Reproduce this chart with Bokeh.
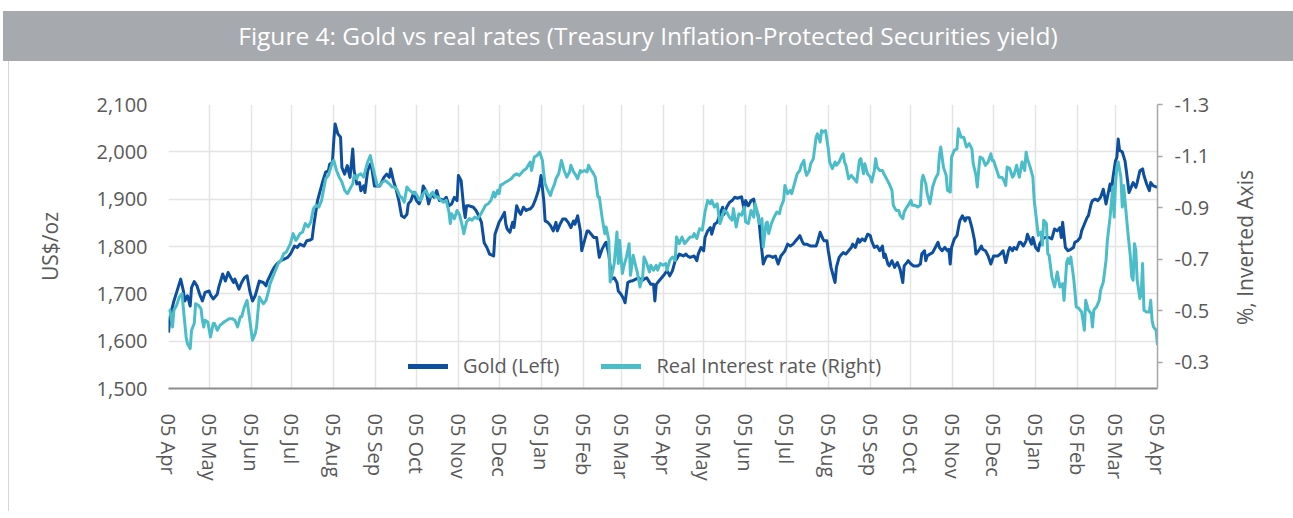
import datetime as dt
from bokeh.plotting import figure
from bokeh.models import (Range1d, LinearAxis, FixedTicker, NumeralTickFormatter,
                          Div, Legend, LegendItem, Spacer)
from bokeh.layouts import column, row
from bokeh.embed import file_html
from bokeh.resources import INLINE

# ---------------- data (days since 05 Apr 2020) ----------------
base_date = dt.date(2020, 4, 5)

tick_labels = ["05 Apr", "05 May", "05 Jun", "05 Jul", "05 Aug", "05 Sep", "05 Oct",
               "05 Nov", "05 Dec", "05 Jan", "05 Feb", "05 Mar", "05 Apr", "05 May",
               "05 Jun", "05 Jul", "05 Aug", "05 Sep", "05 Oct", "05 Nov", "05 Dec",
               "05 Jan", "05 Feb", "05 Mar", "05 Apr"]

gold_day = [0, 1, 4, 6, 9, 11, 12, 14, 16, 17, 19, 21, 23, 25, 27, 30, 31, 33, 36, 37,
            40, 42, 44, 46, 48, 49, 52, 54, 56, 58, 60, 62, 64, 65, 67, 70, 72, 73, 76, 78,
            80, 83, 85, 88, 90, 93, 95, 97, 100, 102, 104, 106, 107, 110, 112, 114, 116, 118, 119, 121,
            122, 123, 125, 127, 128, 130, 132, 134, 136, 137, 139, 141, 142, 144, 145, 147, 149, 150, 152, 154,
            156, 159, 161, 163, 164, 166, 168, 170, 172, 174, 176, 177, 179, 181, 183, 185, 187, 188, 190, 192,
            194, 196, 198, 200, 201, 203, 205, 207, 209, 211, 213, 214, 216, 218, 219, 220, 222, 225, 227, 229,
            231, 233, 235, 237, 240, 241, 244,
            246, 248, 249, 250, 252, 254, 255, 257, 259, 260, 262, 264, 266, 267, 269, 271, 273, 274, 275, 277,
            278, 280, 282, 284, 286, 287, 289, 291, 293, 295, 297, 299, 300, 302, 304, 305, 307, 309, 310, 312,
            314, 316, 318, 320, 322, 323, 325, 327, 329, 331, 332, 334, 336, 337, 339, 341, 342, 345, 347, 349,
            351, 353, 356, 358, 359, 360, 362, 364, 366, 368, 370, 372, 374, 375, 377, 380, 382, 383, 385, 388,
            390, 391, 393, 395, 396, 398, 400, 401, 403, 405, 407, 409, 410, 412, 414, 416, 418, 420, 422, 423,
            425, 426, 428, 430, 432, 433, 435, 436, 437, 439, 441, 442, 444, 446, 448, 450, 452, 454, 455, 457,
            459, 461, 463, 465, 466, 468, 469, 471, 474, 476, 478, 479, 481, 483, 484,
            486, 487, 489, 491, 492, 493, 495, 497, 498, 500, 502, 504, 505, 507, 509, 510, 512, 514, 516, 518,
            519, 521, 523, 525, 527, 528, 529, 531, 532, 534, 536, 538, 540, 542, 543, 545, 546, 548, 550, 553,
            555, 556, 558, 559, 560, 562, 564, 566, 568, 569, 571, 573, 575, 576, 577, 578, 580, 582, 584, 586,
            588, 589, 591, 593, 595, 596, 598, 600, 601, 603, 605, 607, 609, 610, 612, 614, 616, 618, 620, 621,
            623, 624, 626, 628, 629, 631, 633, 634, 636, 637, 638, 640, 642, 643, 645, 647, 649, 650, 652, 654,
            656, 658, 659, 660, 662, 664, 666, 668, 669, 671, 673, 674, 676, 678, 679, 681, 682, 684, 686, 688,
            690, 692, 693, 695, 696, 697, 699, 700, 701, 702, 704, 706, 707, 709, 711, 712, 714, 715, 717, 719,
            720, 722, 724, 725, 727, 730]

gold_val = [1618, 1650, 1685, 1703, 1731, 1706, 1685, 1696, 1674, 1713, 1726, 1717, 1699, 1685, 1703, 1706, 1698, 1689, 1699, 1713,
            1742, 1727, 1745, 1734, 1724, 1731, 1710, 1724, 1734, 1738, 1706, 1685, 1696, 1706, 1727, 1724, 1717, 1727, 1745, 1756,
            1763, 1770, 1773, 1777, 1784, 1801, 1798, 1805, 1801, 1812, 1813, 1816, 1840, 1897, 1918, 1939, 1957, 1960, 1974, 1978,
            2024, 2059, 2038, 2031, 1967, 1953, 1971, 1946, 2006, 1960, 1932, 1935, 1918, 1928, 1914, 1960, 1974, 1967, 1928, 1928,
            1928, 1946, 1953, 1946, 1964, 1939, 1921, 1897, 1865, 1861, 1868, 1890, 1897, 1914, 1897, 1890, 1904, 1928, 1918, 1890,
            1911, 1904, 1918, 1897, 1900, 1897, 1904, 1886, 1890, 1904, 1897, 1950, 1939, 1879, 1861, 1886, 1886, 1883, 1876, 1865,
            1851, 1808, 1798, 1784, 1780, 1826, 1851,
            1861, 1872, 1847, 1837, 1830, 1851, 1840, 1886, 1872, 1868, 1883, 1876, 1879, 1879, 1886, 1900, 1918, 1932, 1950, 1897,
            1854, 1851, 1844, 1833, 1851, 1833, 1847, 1858, 1858, 1851, 1840, 1854, 1847, 1865, 1833, 1791, 1812, 1833, 1833, 1826,
            1819, 1819, 1777, 1794, 1805, 1809, 1784, 1731, 1734, 1724, 1706, 1699, 1689, 1681, 1724, 1727, 1727, 1731, 1734, 1727,
            1731, 1734, 1720, 1720, 1685, 1720, 1727, 1734, 1741, 1749, 1738, 1749, 1770, 1773, 1784, 1780, 1784, 1780, 1777, 1780,
            1770, 1784, 1798, 1791, 1819, 1833, 1840, 1826, 1847, 1851, 1868, 1883, 1868, 1883, 1893, 1897, 1904, 1902, 1904, 1905,
            1876, 1897, 1886, 1897, 1900, 1883, 1868, 1851, 1819, 1763, 1777, 1780, 1780, 1777, 1780, 1763, 1780, 1787, 1791, 1805,
            1801, 1805, 1812, 1819, 1823, 1809, 1805, 1805, 1801, 1801, 1801, 1809, 1830, 1816, 1812,
            1812, 1791, 1756, 1734, 1724, 1756, 1777, 1784, 1787, 1784, 1791, 1798, 1805, 1798, 1816, 1809, 1816, 1812, 1826, 1823,
            1812, 1798, 1801, 1791, 1801, 1777, 1784, 1763, 1759, 1770, 1756, 1766, 1752, 1724, 1759, 1766, 1770, 1763, 1759, 1759,
            1763, 1784, 1791, 1770, 1780, 1784, 1787, 1798, 1809, 1798, 1791, 1798, 1791, 1794, 1763, 1798, 1816, 1823, 1854, 1865,
            1854, 1861, 1861, 1840, 1812, 1784, 1791, 1801, 1794, 1791, 1780, 1763, 1780, 1780, 1780, 1784, 1791, 1766, 1791, 1798,
            1791, 1798, 1794, 1809, 1809, 1801, 1812, 1826, 1812, 1805, 1819, 1798, 1791, 1805, 1816, 1819, 1819, 1819, 1816, 1837,
            1833, 1840, 1819, 1851, 1798, 1791, 1794, 1798, 1809, 1812, 1819, 1833, 1847, 1861, 1865, 1890, 1897, 1900, 1897, 1904,
            1921, 1890, 1904, 1932, 1918, 1943, 1981, 1988, 2027, 2003, 2000, 1981, 1960, 1914, 1928, 1935, 1925, 1935, 1960, 1964,
            1950, 1932, 1918, 1935, 1928, 1925]

real_day = [0, 1, 3, 4, 6, 8, 10, 11, 13, 14, 16, 17, 19, 20, 22, 24, 25, 26, 27, 29,
            31, 33, 34, 36, 38, 41, 43, 45, 47, 49, 51, 53, 54, 56, 58, 60, 62, 64, 65, 67,
            70, 72, 74, 75, 78, 80, 81, 83, 85, 87, 90, 92, 94, 95, 97, 99, 101, 103, 105, 107,
            109, 111, 113, 116, 118, 121, 122, 124, 126, 128, 130, 132, 134, 136, 137, 139, 140, 142, 144, 147,
            149, 150, 152, 154, 156, 158, 160, 163, 165, 167, 169, 171, 172, 174, 176, 178, 181, 182, 184, 186,
            188, 190, 191, 193, 195, 197, 199, 201, 203, 205, 207, 208, 209, 211, 213, 215, 217, 218, 220, 222,
            224, 226, 228, 230, 232, 234, 236, 238, 240, 241, 243, 244,
            245, 247, 249, 251, 253, 255, 257, 259, 260, 262, 264, 267, 268, 270, 272, 274, 276, 277, 278, 280,
            282, 283, 285, 286, 288, 290, 292, 294, 296, 297, 299, 300, 302, 304, 305, 307, 309, 310, 312, 313,
            315, 317, 318, 320, 322, 323, 325, 326, 328, 329, 331, 332, 333, 335, 336, 338, 340, 341, 343, 345,
            346, 348, 350, 351, 353, 355, 356, 358, 360, 361, 363, 365, 367, 368, 370, 372, 374, 375, 377, 379,
            381, 383, 385, 387, 388, 390, 392, 394, 396, 398, 400, 401, 403, 405, 407, 408, 410, 412, 414, 416,
            417, 419, 421, 423, 425, 426, 428, 430, 432, 433, 435, 436, 438, 439, 441, 442, 443, 445, 447, 449,
            451, 452, 454, 455, 457, 459, 460, 462, 464, 466, 467, 469, 470, 471, 473, 474, 476, 478, 479, 481,
            482, 483, 485, 487, 488, 490, 492, 493, 495, 497, 498, 499, 500, 502, 504, 506, 508, 510, 511, 513,
            514, 516, 518, 519, 521, 522, 523, 525, 527, 528, 530, 532, 534, 535, 537, 539, 540, 542, 543, 545,
            546, 548, 549, 551, 553, 555, 556, 557, 559, 560, 562, 564, 566, 568, 569, 570, 572, 574, 575, 577,
            578, 580, 582, 583, 585, 587, 588, 589, 591, 593, 594, 596, 597, 598, 599, 601, 603, 605, 607, 608,
            609, 611, 613, 615, 616, 618, 619, 621, 623, 624, 626, 628, 630, 632, 633, 634, 636, 638, 639, 641,
            642, 644, 645, 646, 648, 649, 650, 652, 654, 655, 656, 658, 660, 661, 663, 664, 665, 666, 668, 669,
            670, 672, 674, 675, 676, 677, 679, 681, 682, 683, 685, 687, 688, 690, 692, 693, 695, 697, 698, 699,
            700, 701, 703, 704, 705, 706, 708, 710, 711, 712, 713, 714, 715, 717, 718, 719, 720, 722, 724, 725,
            726, 727, 729, 730]

real_val = [-0.495, -0.502, -0.437, -0.502, -0.521, -0.553, -0.566, -0.508, -0.398, -0.372, -0.353, -0.424, -0.450, -0.527, -0.521, -0.508, -0.463, -0.437, -0.463, -0.456,
            -0.398, -0.450, -0.450, -0.424, -0.443, -0.456, -0.463, -0.469, -0.469, -0.463, -0.437, -0.476, -0.476, -0.515, -0.540, -0.463, -0.385, -0.411, -0.437, -0.553,
            -0.527, -0.540, -0.579, -0.605, -0.644, -0.670, -0.683, -0.695, -0.721, -0.728, -0.760, -0.799, -0.773, -0.780, -0.799, -0.805, -0.838, -0.825, -0.844, -0.896,
            -0.909, -0.902, -0.928, -1.012, -1.025, -1.077, -1.083, -1.044, -1.018, -0.999, -0.967, -0.954, -0.973, -0.992, -1.025, -1.012, -1.025, -1.031, -1.018, -1.077,
            -1.102, -1.077, -1.031, -0.986, -0.986, -0.999, -1.005, -0.992, -0.980, -0.980, -0.967, -0.941, -0.941, -0.921, -0.980, -0.967, -0.954, -0.960, -0.941, -0.928,
            -0.954, -0.967, -0.954, -0.941, -0.960, -0.941, -0.941, -0.928, -0.921, -0.928, -0.883, -0.838, -0.876, -0.857, -0.889, -0.870, -0.825, -0.799, -0.844, -0.857,
            -0.851, -0.863, -0.857, -0.870, -0.889, -0.909, -0.915, -0.928, -0.960, -0.941, -0.967, -0.954,
            -0.986, -0.992, -0.999, -1.005, -1.012, -1.025, -1.031, -1.025, -1.031, -1.044, -1.051, -1.077, -1.044, -1.096, -1.102, -1.115, -1.083, -1.031, -0.992, -0.967,
            -0.947, -0.967, -0.992, -1.012, -1.031, -1.083, -1.044, -1.018, -1.038, -1.064, -1.038, -1.031, -1.012, -1.044, -1.038, -1.044, -1.038, -1.064, -1.044, -1.038,
            -1.018, -0.941, -0.941, -0.863, -0.799, -0.825, -0.773, -0.611, -0.657, -0.683, -0.805, -0.683, -0.773, -0.644, -0.670, -0.708, -0.760, -0.637, -0.715, -0.670,
            -0.650, -0.592, -0.631, -0.708, -0.683, -0.650, -0.676, -0.657, -0.676, -0.657, -0.683, -0.676, -0.683, -0.657, -0.695, -0.708, -0.695, -0.786, -0.760, -0.786,
            -0.760, -0.773, -0.786, -0.786, -0.799, -0.780, -0.818, -0.812, -0.883, -0.928, -0.915, -0.928, -0.902, -0.915, -0.838, -0.851, -0.889, -0.883, -0.863, -0.851,
            -0.896, -0.825, -0.876, -0.870, -0.902, -0.844, -0.838, -0.889, -0.863, -0.915, -0.876, -0.838, -0.857, -0.747, -0.838, -0.844, -0.799, -0.838, -0.863, -0.883,
            -0.876, -0.902, -0.928, -0.986, -0.954, -0.967, -0.954, -0.992, -1.031, -1.044, -1.064, -1.083, -1.044, -1.025, -1.044, -1.070, -1.090, -1.173, -1.186, -1.154,
            -1.199, -1.193, -1.199, -1.128, -1.077, -1.051, -1.077, -1.064, -1.077, -1.102, -1.109, -1.077, -1.064, -1.012, -1.025, -1.012, -0.999, -1.083, -1.090, -1.031,
            -1.070, -1.031, -1.018, -0.999, -1.044, -1.090, -1.057, -1.044, -1.044, -1.031, -1.012, -0.992, -0.967, -0.909, -0.889, -0.889, -0.870, -0.857, -0.883, -0.902,
            -0.909, -0.928, -0.909, -0.909, -0.902, -0.909, -1.005, -1.025, -0.992, -0.954, -0.915, -0.980, -1.012, -1.031, -1.102, -1.135, -1.057, -1.025, -0.967, -0.960,
            -1.096, -1.122, -1.128, -1.206, -1.173, -1.173, -1.154, -1.135, -1.148, -1.128, -1.070, -1.025, -0.980, -1.044, -1.096, -1.090, -1.064, -1.077, -1.109, -1.083,
            -1.083, -1.051, -1.018, -1.018, -1.012, -0.986, -1.057, -1.051, -1.018, -1.025, -1.064, -1.018, -1.077, -1.044, -1.115, -1.090, -1.057, -1.018, -0.928, -0.838,
            -0.792, -0.805, -0.754, -0.851, -0.838, -0.721, -0.715, -0.631, -0.592, -0.618, -0.650, -0.592, -0.605, -0.540, -0.689, -0.702, -0.683, -0.708, -0.631, -0.579,
            -0.515, -0.508, -0.495, -0.463, -0.424, -0.540, -0.502, -0.489, -0.437, -0.502, -0.515, -0.540, -0.579, -0.611, -0.695, -0.773, -0.863, -0.980, -0.863, -0.992,
            -1.057, -1.077, -1.018, -0.902, -0.986, -0.928, -0.812, -0.708, -0.631, -0.618, -0.760, -0.734, -0.618, -0.547, -0.566, -0.683, -0.502, -0.495, -0.495, -0.540,
            -0.463, -0.437, -0.424, -0.366]

gold_ticks = [1500, 1600, 1700, 1800, 1900, 2000, 2100]
real_ticks = [-1.3, -1.1, -0.9, -0.7, -0.5, -0.3]

# tick positions: the 5th of each month, as day offsets
tick_pos = []
for i in range(len(tick_labels)):
    y = 2020 + (3 + i) // 12
    m = (3 + i) % 12 + 1
    tick_pos.append((dt.date(y, m, 5) - base_date).days)

# ---------------- styling ----------------
FONT = "Open Sans"
TXT = "#595959"
GOLD_C = "#0d4f9e"
REAL_C = "#4bbdc9"
GRID_C = "#e4e4e4"

title_div = Div(
    text="Figure 4: Gold vs real rates (Treasury Inflation-Protected Securities yield)",
    width=1290, height=50, margin=(11, 0, 0, 3),
    styles={"background-color": "#a6a9ad", "color": "white", "font-family": FONT,
            "font-size": "24.5px", "text-align": "center", "line-height": "50px",
            "white-space": "nowrap"})

left_gap = Spacer(width=8, height=450, margin=0)
left_line = Div(text="", width=1, height=450, margin=0,
                styles={"background-color": "#d6d6d6"})

p = figure(width=1208, height=450, output_backend="svg", toolbar_location=None,
           x_range=Range1d(0, tick_pos[-1]), y_range=Range1d(gold_ticks[0], gold_ticks[-1]),
           min_border_left=159, min_border_right=60, min_border_top=43, min_border_bottom=123,
           background_fill_color="white", border_fill_color="white", margin=0)
p.outline_line_color = None
p.extra_y_ranges = {"real": Range1d(start=-0.198, end=-1.3)}

# x axis
xa = p.xaxis[0]
xa.ticker = FixedTicker(ticks=tick_pos)
xa.major_label_overrides = {tp: lab for tp, lab in zip(tick_pos, tick_labels)}
xa.major_label_orientation = "vertical"
xa.axis_line_color = "#8c8c8c"
xa.axis_line_width = 2
xa.major_tick_line_color = None
xa.major_tick_out = 0
xa.major_tick_in = 0
xa.minor_tick_line_color = None
xa.major_label_standoff = 25
xa.major_label_text_font = FONT
xa.major_label_text_font_size = "20px"
xa.major_label_text_color = TXT

# left axis
ya = p.yaxis[0]
ya.ticker = FixedTicker(ticks=gold_ticks)
ya.formatter = NumeralTickFormatter(format="0,0")
ya.axis_line_color = None
ya.major_tick_line_color = None
ya.major_tick_out = 0
ya.major_tick_in = 0
ya.minor_tick_line_color = None
ya.major_label_standoff = 21
ya.major_label_text_font = FONT
ya.major_label_text_font_size = "20px"
ya.major_label_text_color = TXT
ya.axis_label = "US$/oz"
ya.axis_label_standoff = 30
ya.axis_label_text_font = FONT
ya.axis_label_text_font_size = "21px"
ya.axis_label_text_font_style = "normal"
ya.axis_label_text_color = TXT

# right axis (inverted)
ra = LinearAxis(y_range_name="real", ticker=FixedTicker(ticks=real_ticks),
                formatter=NumeralTickFormatter(format="0.0"))
ra.axis_line_color = "#a6a6a6"
ra.axis_line_width = 1.5
ra.major_tick_line_color = "#a6a6a6"
ra.major_tick_line_width = 1.5
ra.major_tick_out = 5
ra.major_tick_in = 0
ra.minor_tick_line_color = None
ra.major_label_standoff = 12
ra.major_label_text_font = FONT
ra.major_label_text_font_size = "20px"
ra.major_label_text_color = TXT
p.add_layout(ra, "right")

# right axis title, reading bottom-to-top
right_title = Div(text="%, Inverted Axis", width=56, height=372, margin=0,
                  styles={"writing-mode": "vertical-rl", "transform": "rotate(180deg)",
                          "text-align": "center", "line-height": "56px",
                          "font-family": FONT, "font-size": "21px", "color": TXT,
                          "white-space": "nowrap"})

# grids
p.xgrid.grid_line_color = GRID_C
p.xgrid.grid_line_width = 1.5
p.ygrid.grid_line_color = GRID_C
p.ygrid.grid_line_width = 1.5

# series
r_gold = p.line(gold_day, gold_val, line_color=GOLD_C, line_width=3, line_join="round")
r_real = p.line(real_day, real_val, y_range_name="real", line_color=REAL_C, line_width=3,
                line_join="round")

# legend swatches (thicker, drawn off-range)
lg_gold = p.line([-20, -10], [1000, 1000], line_color=GOLD_C, line_width=5, line_cap="round")
lg_real = p.line([-20, -10], [1000, 1000], line_color=REAL_C, line_width=5, line_cap="round")

legend = Legend(items=[LegendItem(label="Gold (Left)", renderers=[lg_gold]),
                       LegendItem(label="Real Interest rate (Right)", renderers=[lg_real])],
                orientation="horizontal", location=(240, 9),
                background_fill_alpha=0, border_line_color=None,
                padding=0, margin=0, spacing=42, glyph_width=40, glyph_height=20,
                label_height=20, label_standoff=15,
                label_text_font=FONT, label_text_font_size="20px", label_text_color=TXT)
p.add_layout(legend)

layout = column(title_div, row(left_gap, left_line, p, right_title))
open("out.html", "w").write(file_html(layout, INLINE))
